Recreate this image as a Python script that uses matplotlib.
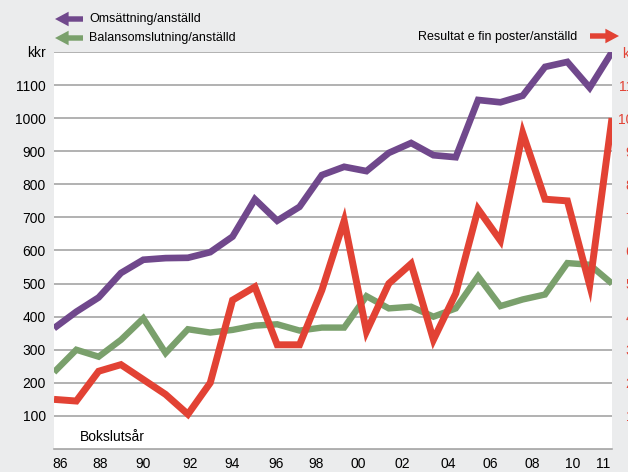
import matplotlib
matplotlib.use('Agg')
import matplotlib.pyplot as plt
from matplotlib.patches import FancyArrowPatch

plt.rcParams['font.family'] = ['Liberation Sans', 'DejaVu Sans']

# data (kkr per employee)
years = list(range(1986, 2012))
omsattning = [365, 415, 458, 532, 572, 577, 578, 595, 642, 755, 690, 732, 828,
              853, 840, 895, 925, 888, 882, 1055, 1048, 1068, 1155, 1170, 1092, 1200]
balans = [232, 300, 279, 330, 395, 290, 362, 352, 360, 373, 377, 358, 367,
          367, 462, 425, 430, 400, 425, 522, 432, 452, 467, 562, 557, 500]
# right axis, kkr
resultat = [15, 14.5, 23.5, 25.5, 21, 16.5, 10.5, 20, 45, 49, 31.5, 31.5, 48,
            69, 35.5, 50, 56, 33, 47, 72.5, 63, 95.5, 75.5, 75, 49.5, 100]

xtick_labels = ['86', '88', '90', '92', '94', '96', '98', '00', '02', '04', '06', '08', '10', '11']
left_ticks = [100, 200, 300, 400, 500, 600, 700, 800, 900, 1000, 1100, 1200]
left_labels = ['100', '200', '300', '400', '500', '600', '700', '800', '900', '1000', '1100', 'kkr']
right_ticks = [10, 20, 30, 40, 50, 60, 70, 80, 90, 100, 110, 120]
right_labels = ['10', '20', '30', '40', '50', '60', '70', '80', '90', '100', '110', 'kkr']

# the printed year labels sit slightly off the data grid in the original
xtick_pos = [1986.27, 1988.06, 1990.0, 1992.1, 1993.97, 1995.95, 1997.74,
             1999.62, 2001.59, 2003.65, 2005.53, 2007.42, 2009.25, 2010.6]

PURPLE = '#70488c'
GREEN = '#7aa06c'
RED = '#e24234'
GRID = '#9c9c9c'

W, H = 628, 472
fig = plt.figure(figsize=(W / 100, H / 100), dpi=100, facecolor='#ebeced')
ax = fig.add_axes([54 / W, 1 - 449 / H, (612 - 54) / W, (449 - 52) / H])
ax.set_facecolor('white')
ax.set_xlim(1986, 2011)
ax.set_ylim(0, 1200)

ax.plot(years, balans, color=GREEN, lw=4.6, solid_joinstyle='miter', solid_capstyle='butt', zorder=2)
ax.plot(years, omsattning, color=PURPLE, lw=4.8, solid_joinstyle='miter', solid_capstyle='butt', zorder=3)

ax.set_yticks(left_ticks)
ax.set_yticklabels(left_labels)
ax.set_xticks(xtick_pos)
ax.set_xticklabels(xtick_labels)
ax.yaxis.grid(True, color=GRID, lw=1.1)
ax.set_axisbelow(True)
ax.tick_params(axis='both', length=0, labelsize=10, colors='black')
ax.tick_params(axis='y', pad=6)
ax.tick_params(axis='x', pad=6)
for side in ['left', 'right', 'top']:
    ax.spines[side].set_visible(False)
ax.spines['bottom'].set_color(GRID)
ax.spines['bottom'].set_linewidth(1.1)

ax2 = ax.twinx()
ax2.set_ylim(0, 120)
ax2.plot(years, resultat, color=RED, lw=5, solid_joinstyle='miter', solid_capstyle='butt')
ax2.set_yticks(right_ticks)
ax2.set_yticklabels(right_labels)
ax2.tick_params(axis='y', length=0, pad=21, labelsize=10, labelcolor=RED)
for lbl in ax2.get_yticklabels():
    lbl.set_ha('right')
for side in ax2.spines:
    ax2.spines[side].set_visible(False)

ax.text(80 / W, 1 - 437 / H, 'Bokslutsår', transform=fig.transFigure, fontsize=10, va='center')

# legend
fig.text(89 / W, 1 - 19 / H, 'Omsättning/anställd', fontsize=9, va='center')
fig.text(89 / W, 1 - 38 / H, 'Balansomslutning/anställd', fontsize=9, va='center')
fig.text(577 / W, 1 - 37 / H, 'Resultat e fin poster/anställd', fontsize=9, va='center', ha='right')

arrow_style = 'simple,head_length=0.7,head_width=0.75,tail_width=0.28'
for (x0, x1, y, c) in [(83, 55, 19, PURPLE), (83, 55, 38, GREEN), (590, 619, 36, RED)]:
    fig.add_artist(FancyArrowPatch((x0 / W, 1 - y / H), (x1 / W, 1 - y / H),
                                   transform=fig.transFigure, arrowstyle=arrow_style,
                                   mutation_scale=14, color=c, lw=0,
                                   shrinkA=0, shrinkB=0))

fig.savefig('out.png', dpi=100, facecolor=fig.get_facecolor())
